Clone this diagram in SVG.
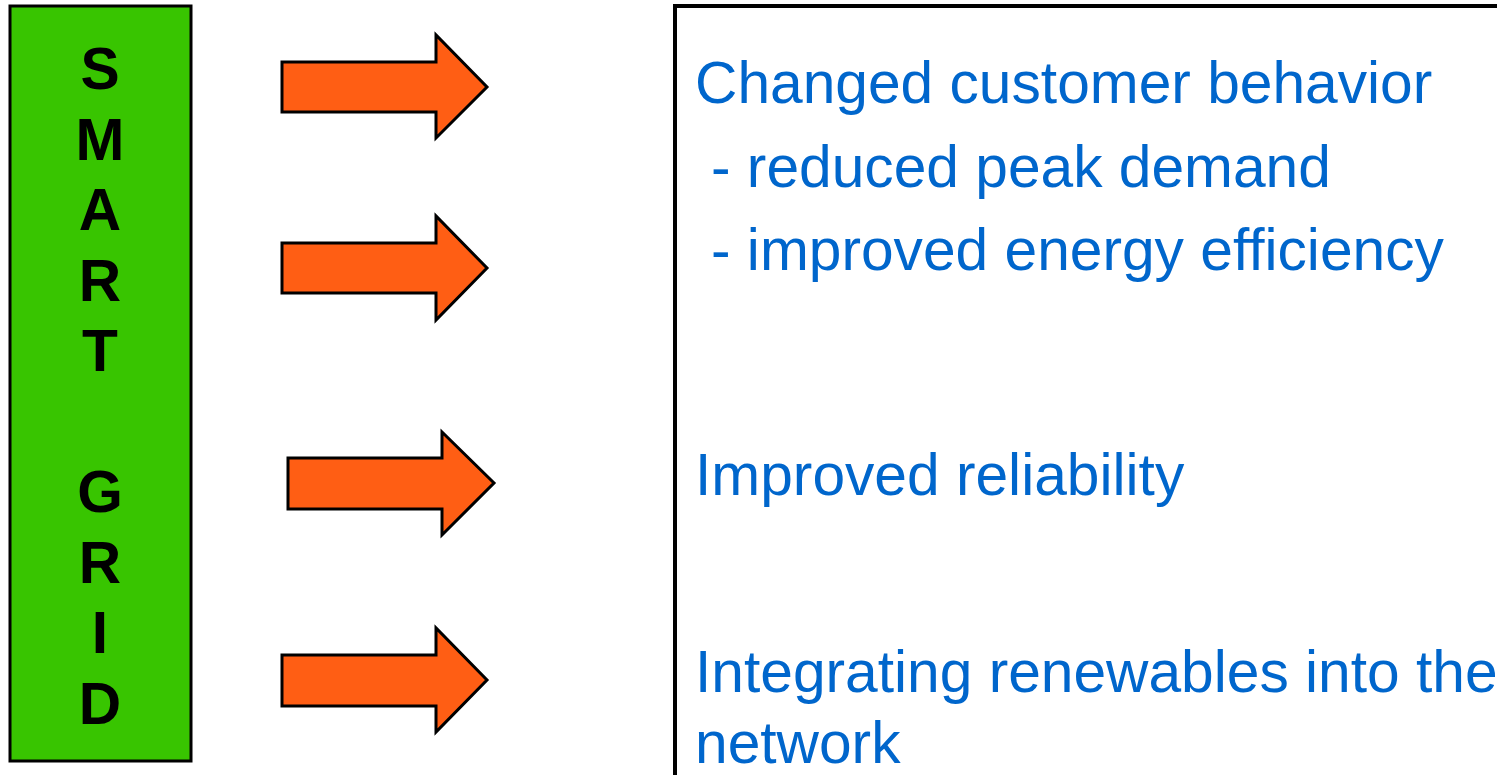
<svg xmlns="http://www.w3.org/2000/svg" width="1497" height="775" viewBox="0 0 1497 775">
<style>
.arrow{fill:#FF5E14;stroke:#000;stroke-width:3;stroke-linejoin:miter}
.letter{font-family:"Liberation Sans",Arial,sans-serif;font-weight:bold;font-size:58.7px;fill:#000;text-anchor:middle}
.txt{font-family:"Liberation Sans",Arial,sans-serif;font-size:58.7px;fill:#0066CC}
</style>
<rect width="1497" height="775" fill="#fff"/>
<g id="smart-grid">
<rect x="10" y="6" width="181" height="755" fill="#38C500" stroke="#000" stroke-width="3"/>
<text class="letter" x="100" y="89">S</text>
<text class="letter" x="100" y="159.5">M</text>
<text class="letter" x="100" y="230">A</text>
<text class="letter" x="100" y="300.5">R</text>
<text class="letter" x="100" y="371">T</text>
<text class="letter" x="100" y="512">G</text>
<text class="letter" x="100" y="582.5">R</text>
<text class="letter" x="100" y="653">I</text>
<text class="letter" x="100" y="723.5">D</text>
</g>
<g id="connectors">
<polygon class="arrow" points="282,62 436,62 436,35 487,87 436,138 436,112 282,112"/>
<polygon class="arrow" points="282,243 436,243 436,216 487,268 436,320 436,293 282,293"/>
<polygon class="arrow" points="288,458 442,458 442,432 494,483 442,535 442,509 288,509"/>
<polygon class="arrow" points="282,655 436,655 436,628 487,680 436,732 436,706 282,706"/>
</g>
<g id="benefits">
<path d="M675,775 L675,6 L1497,6" fill="none" stroke="#000" stroke-width="4"/>
<text class="txt" x="695" y="103">Changed customer behavior</text>
<text class="txt" x="711" y="187">- reduced peak demand</text>
<text class="txt" x="711" y="270">- improved energy efficiency</text>
<text class="txt" x="695" y="495">Improved reliability</text>
<text class="txt" x="695" y="692">Integrating renewables into the</text>
<text class="txt" x="695" y="763">network</text>
</g>
</svg>
